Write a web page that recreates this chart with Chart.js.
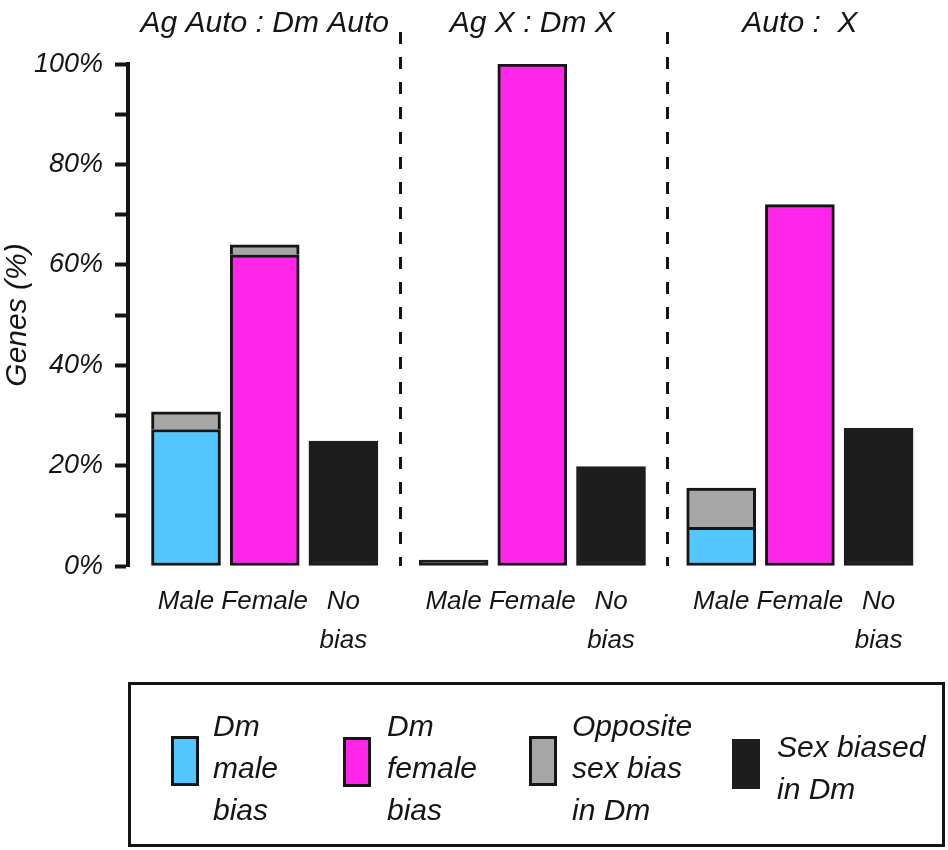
<!DOCTYPE html>
<html>
<head>
<meta charset="utf-8">
<script src="https://cdn.jsdelivr.net/npm/chart.js@4.4.1/dist/chart.umd.min.js"></script>
<style>
  html, body { margin: 0; padding: 0; background: #ffffff; }
  canvas { display: block; }
</style>
</head>
<body>
<canvas id="chart" width="948" height="850"></canvas>
<script>
// ---------- DATA ----------
const groupTitles = ['Ag Auto : Dm Auto', 'Ag X : Dm X', 'Auto :  X'];
const barCategories = [['Male'], ['Female'], ['No', 'bias']];   // repeated in each group
const yTickValues = [0, 10, 20, 30, 40, 50, 60, 70, 80, 90, 100];
const yLabelEvery = 20;

// 9 bars: (Male, Female, No bias) for each of the 3 groups, values in %
const dmMaleBias    = [27.2, null, null,   null, null,  null,   7.7, null, null];
const dmFemaleBias  = [null, 62.0, null,   null, 100.0, null,   null, 72.0, null];
const oppositeBias  = [3.5,  2.0,  null,   null, null,  null,   7.8, null, null];
const sexBiasedInDm = [null, null, 24.9,   1.2,  null,  19.8,   null, null, 27.4];

const seriesNames = ['Dm male bias', 'Dm female bias', 'Opposite sex bias in Dm', 'Sex biased in Dm'];
const legendLines = [['Dm', 'male', 'bias'], ['Dm', 'female', 'bias'], ['Opposite', 'sex bias', 'in Dm'], ['Sex biased', 'in Dm']];

// ---------- LAYOUT / STYLE ----------
const GROUP_STEP = 3.4;                       // distance between groups in bar units
const nBars = groupTitles.length * barCategories.length;
const barPos = Array.from({ length: nBars }, (_, i) => Math.floor(i / 3) * GROUP_STEP + (i % 3));
const toPoints = arr => arr.map((v, i) => ({ x: barPos[i], y: v })).filter(p => p.y !== null);

const INK = '#151515';
const colors = ['#52c6fd', '#ff26e9', '#a6a6a6', '#1d1d1d'];
const regular = "'Liberation Sans', Arial, Helvetica, sans-serif";

const series = [dmMaleBias, dmFemaleBias, oppositeBias, sexBiasedInDm];
const skipped = [false, false, 'bottom', false];
const datasets = series.map((arr, k) => ({
  label: seriesNames[k],
  data: toPoints(arr),
  backgroundColor: colors[k],
  borderColor: k === 3 ? colors[3] : INK,
  borderWidth: 3,
  borderSkipped: skipped[k],
  barThickness: 69,
  stack: 'genes'
}));

const decorPlugin = {
  id: 'decor',
  afterDraw(chart) {
    const ctx = chart.ctx;
    const xs = chart.scales.x;
    const area = chart.chartArea;
    ctx.save();
    // dashed separators between groups
    ctx.strokeStyle = INK;
    ctx.lineWidth = 3;
    ctx.setLineDash([12, 13]);
    for (let g = 1; g < groupTitles.length; g++) {
      const mid = (barPos[g * 3 - 1] + barPos[g * 3]) / 2;
      const px = Math.round(xs.getPixelForValue(mid)) + 1.5;
      ctx.beginPath();
      ctx.moveTo(px, 32);
      ctx.lineTo(px, area.bottom);
      ctx.stroke();
    }
    ctx.setLineDash([]);
    // group titles
    ctx.fillStyle = INK;
    ctx.font = 'italic 30px ' + regular;
    ctx.textAlign = 'center';
    ctx.textBaseline = 'alphabetic';
    groupTitles.forEach((t, g) => {
      ctx.fillText(t, xs.getPixelForValue(barPos[g * 3 + 1]), 32);
    });
    // legend box
    ctx.lineWidth = 3;
    ctx.strokeStyle = INK;
    ctx.strokeRect(129.5, 683.5, 814, 162);
    const sw = [[171, 736], [343, 737], [529, 736], [732, 739]];
    const tx = [213, 387, 572, 777];
    ctx.textAlign = 'left';
    ctx.textBaseline = 'middle';
    ctx.font = 'italic 30px ' + regular;
    legendLines.forEach((lines, k) => {
      const [sx, sy] = sw[k];
      ctx.fillStyle = k === 3 ? colors[3] : INK;
      ctx.fillRect(sx, sy, 28, 50);
      ctx.fillStyle = colors[k];
      if (k !== 3) ctx.fillRect(sx + 3, sy + 3, 22, 44);
      ctx.fillStyle = INK;
      const lh = 42;
      const y0 = 770 - (lines.length - 1) * lh / 2;
      lines.forEach((ln, j) => ctx.fillText(ln, tx[k], y0 + j * lh));
    });
    ctx.restore();
  }
};

new Chart(document.getElementById('chart'), {
  type: 'bar',
  data: { datasets },
  options: {
    responsive: false,
    devicePixelRatio: 1,
    animation: false,
    layout: { padding: { top: 64, left: 0, right: 0, bottom: 0 } },
    plugins: { legend: { display: false }, tooltip: { enabled: false } },
    scales: {
      x: {
        type: 'linear',
        offset: false,
        stacked: true,
        min: -0.737,
        max: 9.682,
        afterFit: s => { s.height = 284; },
        afterBuildTicks: s => { s.ticks = barPos.map(v => ({ value: v })); },
        grid: { display: false },
        border: { display: false },
        ticks: {
          autoSkip: false,
          maxRotation: 0,
          padding: 8,
          color: INK,
          font: { family: regular, size: 26, style: 'italic', lineHeight: 1.5 },
          callback: (v, i) => barCategories[i % 3]
        }
      },
      y: {
        stacked: true,
        min: 0,
        max: 100,
        afterFit: s => { s.width = 128; },
        afterBuildTicks: s => { s.ticks = yTickValues.map(v => ({ value: v })); },
        grid: { display: true, drawOnChartArea: false, drawTicks: true, tickLength: 13, tickWidth: 4, tickColor: INK },
        border: { display: true, width: 4, color: INK },
        title: {
          display: true,
          text: 'Genes (%)',
          color: INK,
          padding: 0,
          font: { family: regular, size: 30, style: 'italic' }
        },
        ticks: {
          padding: 12,
          color: INK,
          font: { family: regular, size: 27, style: 'italic' },
          callback: v => (v % yLabelEvery === 0 ? v + '%' : '')
        }
      }
    }
  },
  plugins: [decorPlugin]
});
</script>
</body>
</html>
